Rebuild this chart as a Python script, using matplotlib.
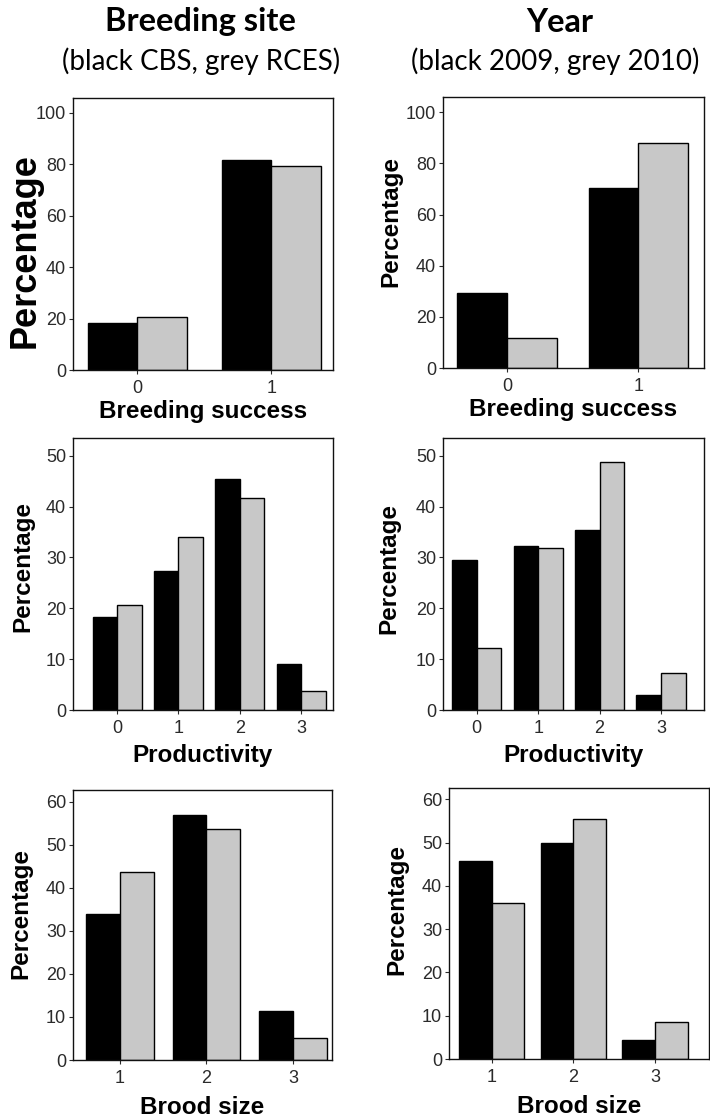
import numpy as np
import matplotlib
matplotlib.use("Agg")
import matplotlib.pyplot as plt

# breeding success (0/1)
success_cats = ["0", "1"]
success_site_cbs = [18.3, 81.7]
success_site_rces = [20.7, 79.3]
success_2009 = [29.4, 70.6]
success_2010 = [11.8, 88.2]

# productivity (0-3)
prod_cats = ["0", "1", "2", "3"]
prod_site_cbs = [18.2, 27.3, 45.5, 9.0]
prod_site_rces = [20.7, 34.0, 41.6, 3.7]
prod_2009 = [29.5, 32.3, 35.4, 3.0]
prod_2010 = [12.1, 31.8, 48.7, 7.2]

# brood size (1-3)
brood_cats = ["1", "2", "3"]
brood_site_cbs = [34.0, 57.0, 11.5]
brood_site_rces = [43.7, 53.6, 5.0]
brood_2009 = [45.8, 49.8, 4.3]
brood_2010 = [36.1, 55.5, 8.5]

GREY = "#c8c8c8"
TICK_COL = "#2a2a2a"

fig = plt.figure(figsize=(7.1, 11.19), dpi=100)


def panel(rect, cats, black, grey, width, xlim, ylim, yticks, xlabel,
          ylab_x, ylab_y, ylab_size=17.5, xpad=3):
    ax = fig.add_axes(rect)
    x = np.arange(len(cats))
    ax.bar(x - width / 2, black, width, color="black", edgecolor="black", linewidth=1.0)
    ax.bar(x + width / 2, grey, width, color=GREY, edgecolor="black", linewidth=1.0)
    ax.set_xlim(*xlim)
    ax.set_ylim(*ylim)
    ax.set_xticks(x)
    ax.set_xticklabels(cats)
    ax.set_yticks(yticks)
    for s in ax.spines.values():
        s.set_linewidth(1.0)
        s.set_color("#111111")
    ax.tick_params(direction="out", length=3, width=0.8, colors=TICK_COL,
                   labelsize=13, pad=2)
    ax.tick_params(axis="x", pad=4)
    for lab in ax.get_xticklabels() + ax.get_yticklabels():
        lab.set_family("Liberation Sans")
    ax.set_xlabel(xlabel, fontsize=17.5, fontweight="bold",
                  family="Liberation Sans", labelpad=xpad)
    ax.set_ylabel("Percentage", fontsize=ylab_size, fontweight="bold",
                  family="Liberation Sans", va="center")
    ax.yaxis.set_label_coords(ylab_x, ylab_y)
    return ax


panel([0.1028, 0.6693, 0.3662, 0.2431], success_cats, success_site_cbs, success_site_rces,
      0.37, (-0.48, 1.46), (0, 105.8), [0, 20, 40, 60, 80, 100], "Breeding success",
      -47.5 / 260, 0.4375, ylab_size=26, xpad=2.5)
panel([0.6239, 0.6711, 0.3676, 0.2422], success_cats, success_2009, success_2010,
      0.38, (-0.49, 1.50), (0, 106), [0, 20, 40, 60, 80, 100], "Breeding success",
      -52 / 261, 0.54, xpad=2.5)
panel([0.1028, 0.3655, 0.3662, 0.2431], prod_cats, prod_site_cbs, prod_site_rces,
      0.40, (-0.72, 3.52), (0, 53.5), [0, 10, 20, 30, 40, 50], "Productivity",
      -50.5 / 260, 0.526, xpad=5)
panel([0.6239, 0.3655, 0.3676, 0.2431], prod_cats, prod_2009, prod_2010,
      0.40, (-0.55, 3.70), (0, 53.5), [0, 10, 20, 30, 40, 50], "Productivity",
      -54 / 261, 0.522, xpad=5)
panel([0.1028, 0.0527, 0.3648, 0.2413], brood_cats, brood_site_cbs, brood_site_rces,
      0.39, (-0.54, 2.45), (0, 62.7), [0, 10, 20, 30, 40, 50, 60], "Brood size",
      -52 / 259, 0.544, xpad=6.5)
panel([0.6324, 0.0536, 0.3662, 0.2422], brood_cats, brood_2009, brood_2010,
      0.40, (-0.52, 2.66), (0, 62.6), [0, 10, 20, 30, 40, 50, 60], "Brood size",
      -52 / 260, 0.55, xpad=6.5)

# column headers
fig.text(200 / 710, 1 - 22 / 1119, "Breeding site", ha="center", va="center",
         fontsize=23.5, fontweight="bold", family="Lato")
fig.text(201 / 710, 1 - 61 / 1119, "(black CBS, grey RCES)", ha="center", va="center",
         fontsize=20, family="Lato")
fig.text(560 / 710, 1 - 22 / 1119, "Year", ha="center", va="center",
         fontsize=23.5, fontweight="bold", family="Lato")
fig.text(555 / 710, 1 - 61 / 1119, "(black 2009, grey 2010)", ha="center", va="center",
         fontsize=20, family="Lato")

fig.savefig("out.png", dpi=100)
